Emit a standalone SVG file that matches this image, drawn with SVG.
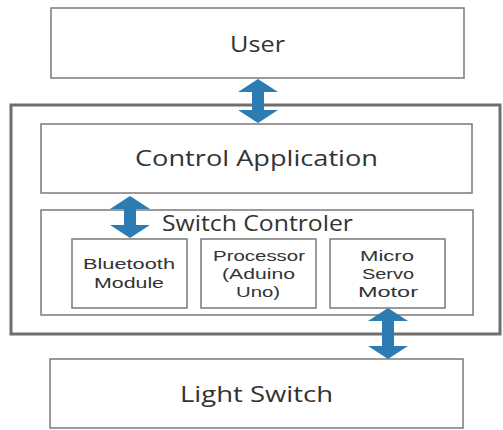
<svg xmlns="http://www.w3.org/2000/svg" width="503" height="430" viewBox="0 0 503 430">
<style>
.box{fill:#fff;stroke:#7a7a7a;stroke-width:1.5}
.outer{fill:#fff;stroke:#6e6e6e;stroke-width:3}
.t{font-family:"Open Sans","Noto Sans",sans-serif;fill:#333;text-anchor:middle}
.big{font-size:21px}
.sm{font-family:"Liberation Sans",Arial,sans-serif;font-size:15.5px}
.arr{fill:#2c7bb3}
</style>
<rect width="503" height="430" fill="#fff"/>
<g id="outer"><rect class="outer" x="11" y="105" width="489" height="229"/></g>
<g id="user"><rect class="box" x="51" y="8" width="413" height="70"/><text class="t big" x="257.5" y="52" textLength="55" lengthAdjust="spacingAndGlyphs">User</text></g>
<g id="control-app"><rect class="box" x="41" y="124" width="431" height="69"/><text class="t big" x="256.5" y="166" textLength="243" lengthAdjust="spacingAndGlyphs">Control Application</text></g>
<g id="switch-controller"><rect class="box" x="41" y="210" width="432" height="105"/><text class="t big" x="257.5" y="231" textLength="191" lengthAdjust="spacingAndGlyphs">Switch Controler</text></g>
<g id="bluetooth"><rect class="box" x="72" y="239" width="115" height="69"/><text class="t sm" x="129" y="269" textLength="92" lengthAdjust="spacingAndGlyphs">Bluetooth</text><text class="t sm" x="129" y="287.5" textLength="70" lengthAdjust="spacingAndGlyphs">Module</text></g>
<g id="processor"><rect class="box" x="201" y="239" width="115" height="69"/><text class="t sm" x="259" y="261" textLength="92" lengthAdjust="spacingAndGlyphs">Processor</text><text class="t sm" x="258.5" y="279" textLength="73" lengthAdjust="spacingAndGlyphs">(Aduino</text><text class="t sm" x="258" y="297" textLength="44" lengthAdjust="spacingAndGlyphs">Uno)</text></g>
<g id="servo"><rect class="box" x="330" y="239" width="115" height="69"/><text class="t sm" x="387" y="261" textLength="54" lengthAdjust="spacingAndGlyphs">Micro</text><text class="t sm" x="388" y="279" textLength="52" lengthAdjust="spacingAndGlyphs">Servo</text><text class="t sm" x="388" y="297" textLength="60" lengthAdjust="spacingAndGlyphs">Motor</text></g>
<g id="light-switch"><rect class="box" x="50" y="359" width="413" height="69"/><text class="t big" x="256.5" y="402" textLength="153" lengthAdjust="spacingAndGlyphs">Light Switch</text></g>
<g id="connectors">
<polygon class="arr" points="258,79 278,92 264,92 264,110 278,110 258,123 238,110 252,110 252,92 238,92"/>
<polygon class="arr" points="130,196 150,209 136,209 136,225 150,225 130,238 110,225 124,225 124,209 110,209"/>
<polygon class="arr" points="388,308 408,321 394,321 394,346 408,346 388,359 368,346 382,346 382,321 368,321"/>
</g>
</svg>
